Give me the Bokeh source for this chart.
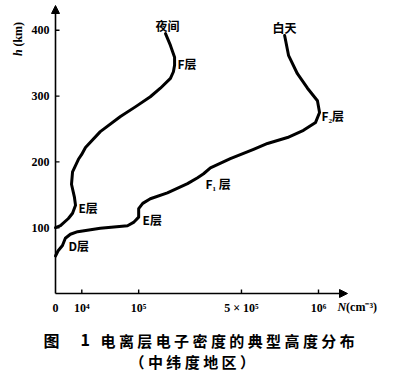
import numpy as np
from bokeh.plotting import figure
from bokeh.models import Range1d, Label, Arrow, NormalHead
from bokeh.core.properties import value
from bokeh.embed import file_html
from bokeh.resources import INLINE

# ---- data (electron density N in cm^-3, height h in km) ----
night_N = [1.75e5, 1.91e5, 2.05e5, 2.05e5, 2.01e5, 1.91e5, 1.59e5, 1.30e5, 9.3e4, 6.1e4,
           2.9e4, 1.3e4, 9.8e3, 7.6e3, 4.2e3, 3.7e3, 5.2e3, 5.8e3, 4.2e3, 2.4e3, 3.6e2, 0]
night_h = [395, 377, 359, 347, 337, 327, 312, 299, 284, 269,
           246, 222, 211, 204, 185, 166, 146, 134, 122, 114, 103, 100]

day_N = [7.59e5, 7.85e5, 8.46e5, 9.18e5, 9.92e5, 1.008e6, 9.78e5, 8.89e5, 7.78e5,
         6.50e5, 5.67e5, 4.42e5, 3.47e5, 3.17e5, 2.92e5, 2.52e5, 1.81e5, 1.30e5,
         1.10e5, 1.0e5, 1.0e5, 8.8e4, 7.5e4, 2.9e4, 7.1e3, 3.2e3, 1.4e3, 7e2, 1e2, 0]
day_h = [392, 362, 334, 312, 293, 275, 260, 248, 237,
         228, 219, 205, 191, 182, 176, 167, 153, 144,
         137, 129, 116, 108, 103, 99, 94, 90, 84, 73, 65, 57]

x_tick_N = [0, 1e4, 1e5, 5e5, 1e6]
x_tick_labels = ["0", "10⁴", "10⁵", "5 × 10⁵", "10⁶"]
y_ticks = [100, 200, 300, 400]
y_tick_labels = ["100", "200", "300", "400"]

# square-root density scale
def sx(N):
    return np.sqrt(np.asarray(N, dtype=float))

CJK = "Noto Sans CJK SC"
SERIF = "Liberation Serif"

KX = 0.263   # px per sqrt(N) unit
KY = 0.658   # px per km

p = figure(width=400, height=375, output_backend="svg", toolbar_location=None,
           x_range=Range1d(-55 / KX, 345 / KX), y_range=Range1d(-82 / KY, 293 / KY),
           x_axis_type=None, y_axis_type=None, min_border=0)
p.outline_line_color = None
p.grid.visible = False
p.background_fill_color = "white"
p.border_fill_color = "white"

p.line(sx(night_N), night_h, line_width=3, line_color="black", line_join="round", line_cap="round")
p.line(sx(day_N), day_h, line_width=3, line_color="black", line_join="round", line_cap="round")

# axes (drawn by hand)
head = dict(size=8, fill_color="black", line_color="black")
p.add_layout(Arrow(x_start=0, y_start=0, x_end=0, y_end=288 / KY, line_width=1.6,
                   end=NormalHead(**head)))
p.add_layout(Arrow(x_start=0, y_start=0, x_end=292 / KX, y_end=0, line_width=1.6,
                   end=NormalHead(**head)))

xt = sx(x_tick_N)
p.segment(x0=xt[1:], y0=0, x1=xt[1:], y1=4 / KY, line_width=1.4, line_color="black")
p.segment(x0=0, y0=y_ticks, x1=4 / KX, y1=y_ticks, line_width=1.4, line_color="black")

p.text(x=xt, y=-14 / KY, text=x_tick_labels, text_font=value(SERIF),
       text_font_style="bold", text_font_size="12px", text_align="center",
       text_baseline="middle", text_color="black")
p.text(x=-6 / KX, y=y_ticks, text=y_tick_labels, text_font=value(SERIF),
       text_font_style="bold", text_font_size="12px", text_align="right",
       text_baseline="middle", text_color="black")

def lab(x, y, t, size="12px", font=CJK, align="left", style="bold", angle=0):
    p.add_layout(Label(x=x, y=y, text=t, text_font=font, text_font_size=size,
                       text_font_style=style, text_align=align,
                       text_baseline="middle", text_color="black", angle=angle))

lab(426, 407, "夜间", align="center")
lab(464, 350, "F层")
lab(871, 404, "白天", align="center")
lab(1011, 270, "F₂层")
lab(570, 167, "F₁ 层")
lab(87, 131, "E层")
lab(331, 112, "E层")
lab(49, 73, "D层")

# axis titles
lab(1072, -21, "N", font=SERIF, style="bold italic")
lab(1105, -21, "(cm⁻³)", font=SERIF)
lab(-141, 366, "h", font=SERIF, style="bold italic", align="center", angle=np.pi / 2)
lab(-141, 394, "(km)", font=SERIF, align="center", angle=np.pi / 2)

# caption
lab(-46, -71, "图", size="16px")
lab(95, -71, "1", size="16px")
lab(171, -71, "电 离 层 电 子 密 度 的 典 型 高 度 分 布", size="15px")
lab(520, -104, "（ 中 纬 度 地 区 ）", size="15px", align="center")

open("out.html", "w").write(file_html(p, INLINE))
